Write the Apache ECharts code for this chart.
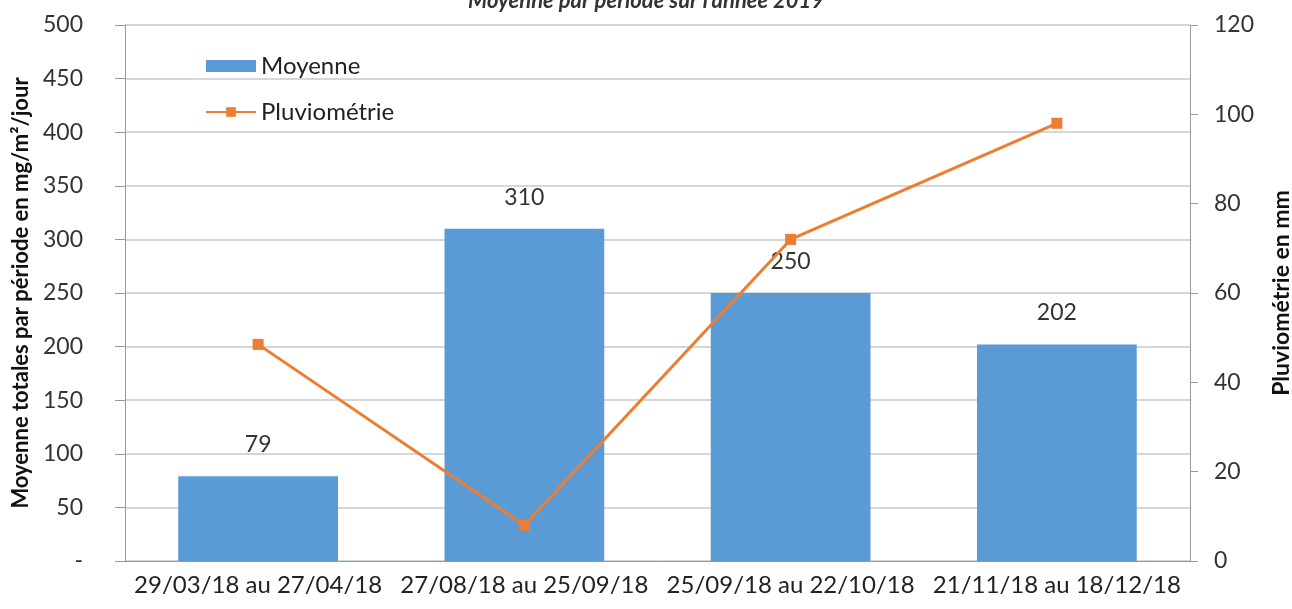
<!DOCTYPE html>
<html lang="fr">
  <head>
    <meta charset="UTF-8" />
    <title>Moyenne par période</title>
    <script src="https://cdn.jsdelivr.net/npm/echarts@6.0.0/dist/echarts.min.js"></script>
    <style>
      body { margin: 0; background: #fff; }
    </style>
  </head>
  <body>
    <div id="main" style="width: 1292px; height: 609px"></div>
    <script type="text/javascript">
      // Data
      const periods = [
        "29/03/18 au 27/04/18",
        "27/08/18 au 25/09/18",
        "25/09/18 au 22/10/18",
        "21/11/18 au 18/12/18",
      ];
      const moyenne = [79, 310, 250, 202];
      const pluviometrie = [48.5, 8, 72, 98];

      const font = "Lato, 'Open Sans', sans-serif";
      const gridColor = "#c8c8c8";

      let myChart = echarts.init(document.getElementById("main"));

      let options = {
        animation: false,
        textStyle: { fontFamily: font },
        title: {
          text: "Moyenne par période sur l'année 2019",
          left: "center",
          top: -15,
          textStyle: { fontFamily: font, fontSize: 22, fontStyle: "italic", fontWeight: "bold", color: "#333" },
        },
        legend: {
          orient: "vertical",
          left: 200,
          top: 49,
          itemGap: 22,
          itemWidth: 50,
          itemHeight: 12,
          textStyle: { fontFamily: font, fontSize: 24, color: "#222" },
          data: [
            { name: "Moyenne", icon: "rect" },
            { name: "Pluviométrie" },
          ],
        },
        grid: { left: 125, right: 102, top: 25, bottom: 48, outerBoundsMode: "none" },
        xAxis: {
          type: "category",
          data: periods,
          axisLine: { lineStyle: { color: "#999" } },
          axisTick: { show: false },
          axisLabel: { fontSize: 24, color: "#222", margin: 12, interval: 0 },
        },
        yAxis: [
          {
            type: "value",
            min: 0,
            max: 500,
            interval: 50,
            name: "Moyenne totales par période en mg/m²/jour",
            nameLocation: "middle",
            nameGap: 90,
            nameTextStyle: { fontFamily: font, fontSize: 22, fontWeight: "bold", color: "#111" },
            axisLine: { show: true, lineStyle: { color: "#999" } },
            axisTick: { show: true, length: 10, lineStyle: { color: "#999" } },
            axisLabel: {
              fontSize: 23,
              color: "#333",
              margin: 42,
              formatter: (v) => (v === 0 ? "-" : v),
            },
            splitLine: { lineStyle: { color: gridColor, width: 1.5 } },
          },
          {
            type: "value",
            min: 0,
            max: 120,
            interval: 20,
            name: "Pluviométrie en mm",
            nameLocation: "middle",
            nameGap: 80,
            nameRotate: 90,
            nameTextStyle: { fontFamily: font, fontSize: 23, fontWeight: "bold", color: "#111" },
            axisLine: { show: true, lineStyle: { color: "#999" } },
            axisTick: { show: true, length: 8, lineStyle: { color: "#999" } },
            axisLabel: { fontSize: 23, color: "#333", margin: 24 },
            splitLine: { show: false },
          },
        ],
        series: [
          {
            name: "Moyenne",
            type: "bar",
            data: moyenne,
            barWidth: "60%",
            itemStyle: { color: "#5b9bd5" },
            label: {
              show: true,
              position: "top",
              distance: 20,
              fontSize: 23,
              color: "#333",
            },
          },
          {
            name: "Pluviométrie",
            type: "line",
            yAxisIndex: 1,
            data: pluviometrie,
            symbol: "rect",
            symbolSize: 11,
            lineStyle: { color: "#ed7d31", width: 3 },
            itemStyle: { color: "#ed7d31" },
          },
        ],
      };

      myChart.setOption(options);
    </script>
  </body>
</html>
